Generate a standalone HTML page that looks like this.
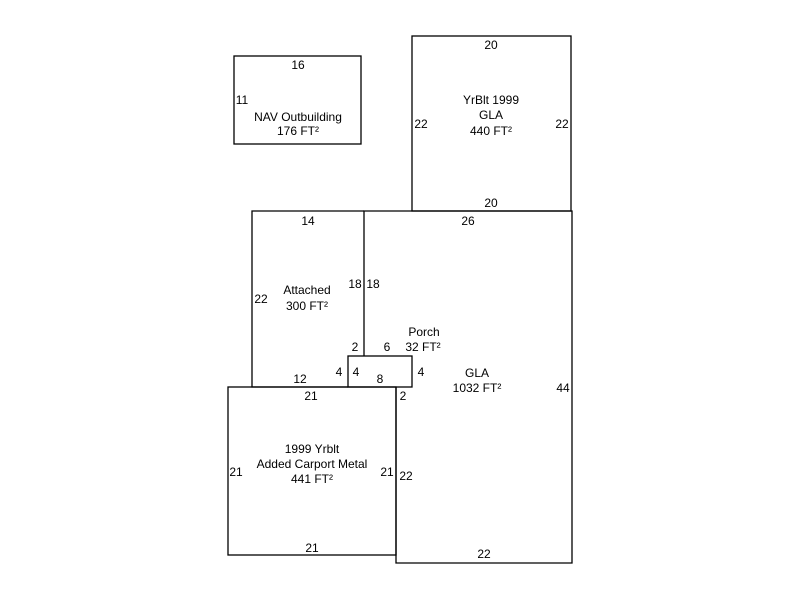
<!DOCTYPE html>
<html><head><style>body{margin:0;background:#fff}svg{display:block}text{font-family:"Liberation Sans",Arial,sans-serif;font-size:12px;fill:#000}</style></head>
<body>
<svg width="800" height="600" xmlns="http://www.w3.org/2000/svg">
<g fill="none" stroke="#000" stroke-width="1.3">
<rect x="234" y="56" width="127" height="88"/>
<rect x="412" y="36" width="159" height="175"/>
<polyline points="348,387 252,387 252,211 364,211"/>
<polyline points="364,356 364,211 572,211 572,563 396,563 396,387"/>
<rect x="348" y="356" width="64" height="31"/>
<rect x="228" y="387" width="168" height="168"/>
</g>
<g text-anchor="middle">
<text x="298" y="69">16</text>
<text x="242" y="104">11</text>
<text x="298" y="121">NAV Outbuilding</text>
<text x="298" y="135">176 FT²</text>
<text x="491" y="49">20</text>
<text x="491" y="104">YrBlt 1999</text>
<text x="491" y="119">GLA</text>
<text x="491" y="135">440 FT²</text>
<text x="421" y="128">22</text>
<text x="562" y="128">22</text>
<text x="491" y="207">20</text>
<text x="308" y="225">14</text>
<text x="468" y="225">26</text>
<text x="307" y="294">Attached</text>
<text x="307" y="310">300 FT²</text>
<text x="261" y="303">22</text>
<text x="355" y="288">18</text>
<text x="373" y="288">18</text>
<text x="424" y="336">Porch</text>
<text x="423" y="351">32 FT²</text>
<text x="355" y="351">2</text>
<text x="387" y="351">6</text>
<text x="339" y="376">4</text>
<text x="356" y="376">4</text>
<text x="421" y="376">4</text>
<text x="380" y="383">8</text>
<text x="300" y="383">12</text>
<text x="477" y="377">GLA</text>
<text x="477" y="392">1032 FT²</text>
<text x="563" y="392">44</text>
<text x="311" y="400">21</text>
<text x="403" y="400">2</text>
<text x="312" y="453">1999 Yrblt</text>
<text x="312" y="468">Added Carport Metal</text>
<text x="312" y="483">441 FT²</text>
<text x="236" y="476">21</text>
<text x="387" y="476">21</text>
<text x="406" y="480">22</text>
<text x="312" y="552">21</text>
<text x="484" y="558">22</text>
</g>
</svg>
</body></html>
